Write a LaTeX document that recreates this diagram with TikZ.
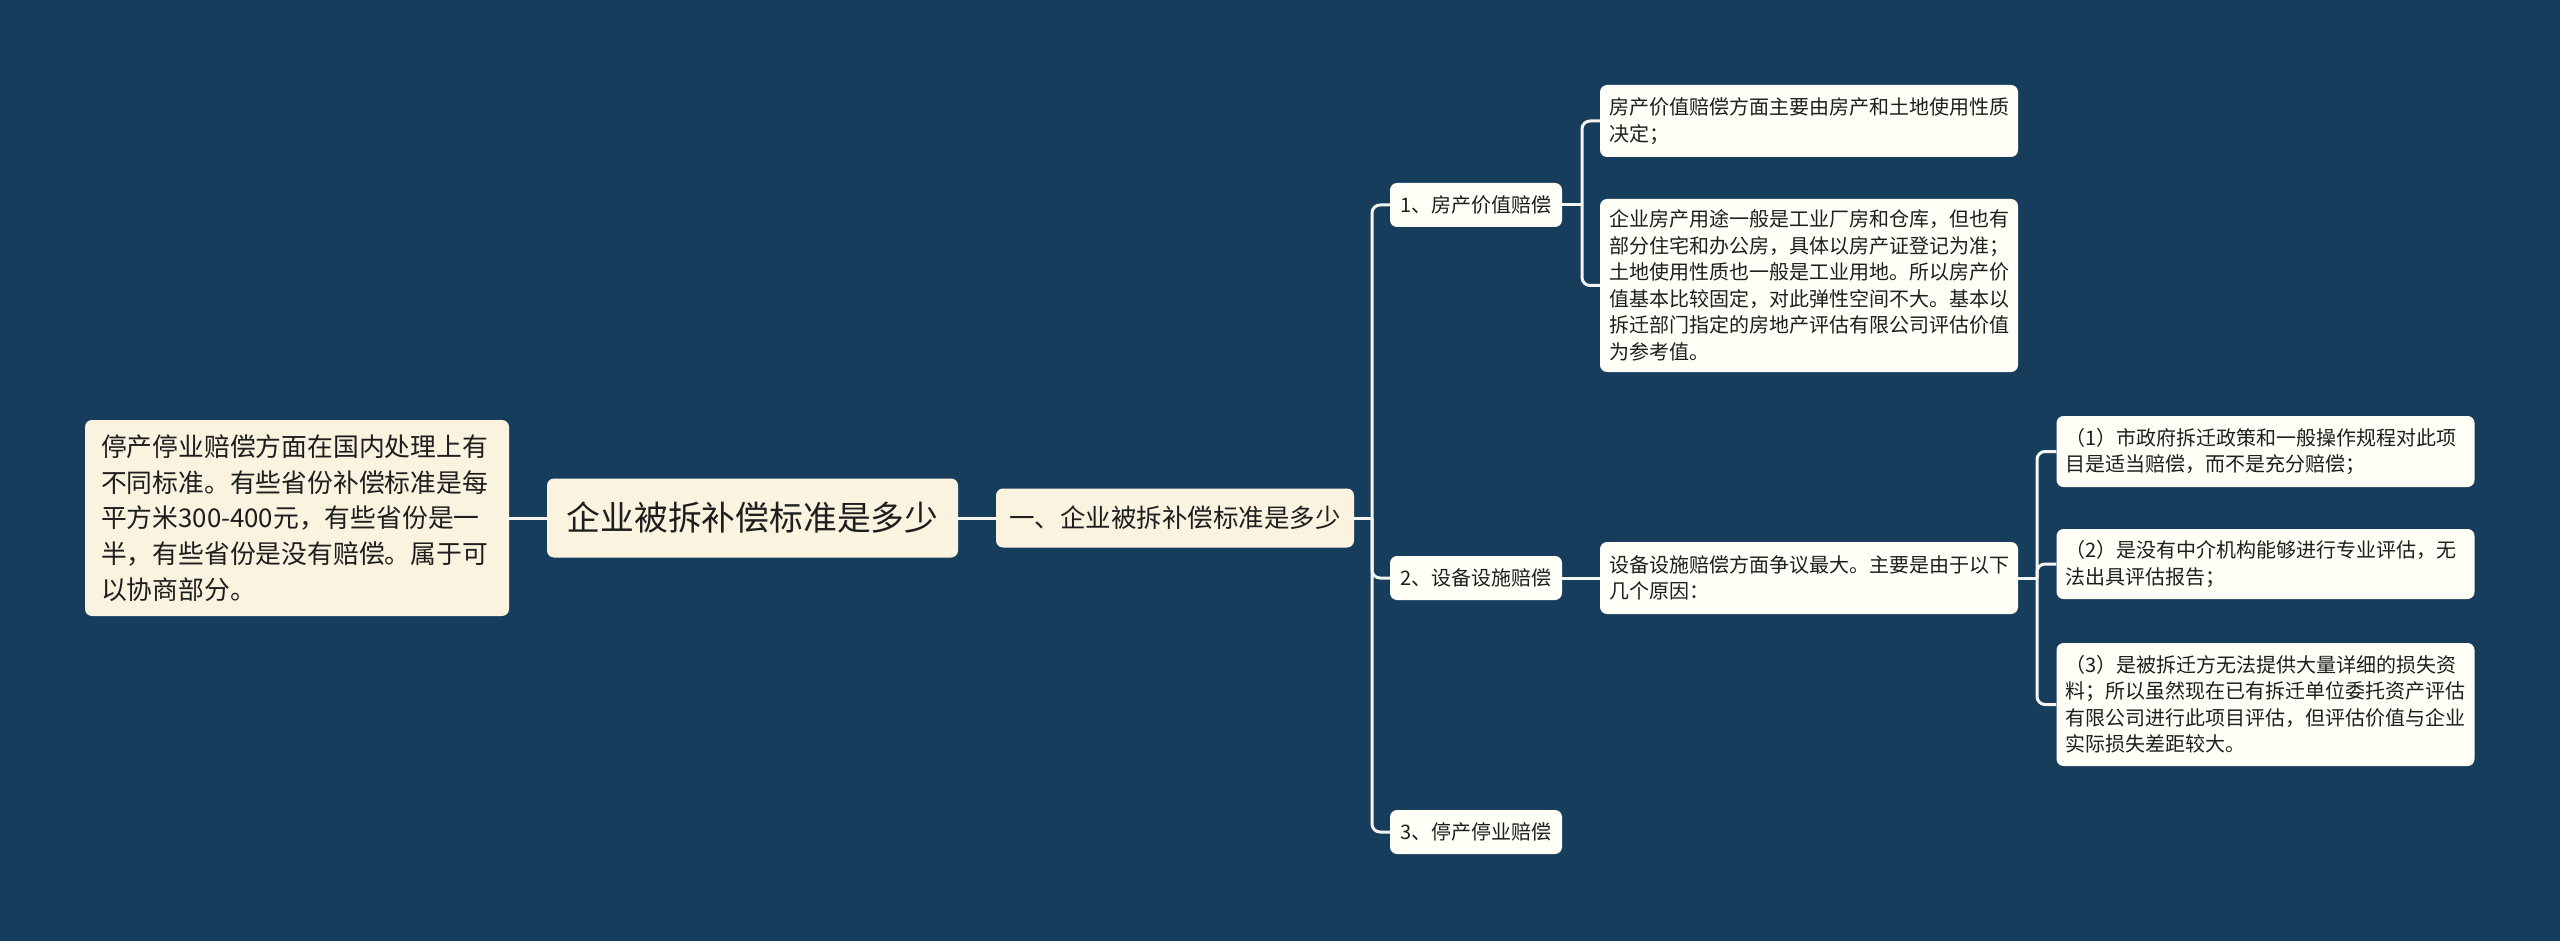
\documentclass[tikz,border=0pt]{standalone}
\usepackage{fontspec}
\setmainfont{Noto Sans CJK SC}
\definecolor{bgc}{HTML}{173D5C}
\definecolor{creamc}{HTML}{FAF3DF}
\definecolor{leafc}{HTML}{FFFEF7}
\definecolor{linec}{HTML}{F4F4F0}
\definecolor{txtc}{HTML}{1E1E1E}
\begin{document}
\begin{tikzpicture}[x=1pt,y=-1pt,
  box/.style={draw=none, rounded corners=7pt, inner sep=0pt, text=txtc},
  cream/.style={box, fill=creamc},
  leaf/.style={box, fill=leafc},
  midbox/.style={leaf, minimum width=172pt, minimum height=44pt, font=\fontsize{20}{26}\selectfont},
  textbox/.style={leaf, minimum width=418pt, text width=400pt, align=left, font=\fontsize{20}{26.5}\selectfont},
  conn/.style={draw=linec, line width=3pt},
  elbow/.style={conn, rounded corners=8pt}]
\fill[bgc] (0,0) rectangle (2560,941);
\useasboundingbox (0,0) rectangle (2560,941);

% nodes
\node[cream, minimum width=424pt, minimum height=196pt, text width=392pt, align=left,
      font=\fontsize{25.8}{35.6}\selectfont] (L) at (297,518)
  {停产停业赔偿方面在国内处理上有\\不同标准。有些省份补偿标准是每\\平方米300-400元，有些省份是一\\半，有些省份是没有赔偿。属于可\\以协商部分。};
\node[cream, minimum width=411pt, minimum height=79pt, font=\fontsize{33.8}{40}\selectfont] (R) at (752.5,518) {企业被拆补偿标准是多少};
\node[cream, minimum width=358pt, minimum height=59pt, font=\fontsize{25.5}{32}\selectfont] (A) at (1175,518) {一、企业被拆补偿标准是多少};

\node[midbox] (B1) at (1476,205) {1、房产价值赔偿};
\node[midbox] (B2) at (1476,578) {2、设备设施赔偿};
\node[midbox] (B3) at (1476,832) {3、停产停业赔偿};

\node[textbox, minimum height=72pt] (C1) at (1809,121)
  {房产价值赔偿方面主要由房产和土地使用性质\\决定；};
\node[textbox, minimum height=173pt] (C2) at (1809,285.5)
  {企业房产用途一般是工业厂房和仓库，但也有\\部分住宅和办公房，具体以房产证登记为准；\\土地使用性质也一般是工业用地。所以房产价\\值基本比较固定，对此弹性空间不大。基本以\\拆迁部门指定的房地产评估有限公司评估价值\\为参考值。};
\node[textbox, minimum height=72pt] (D) at (1809,578)
  {设备设施赔偿方面争议最大。主要是由于以下\\几个原因：};

\node[textbox, minimum height=71pt] (E1) at (2265.5,451.5)
  {（1）市政府拆迁政策和一般操作规程对此项\\目是适当赔偿，而不是充分赔偿；};
\node[textbox, minimum height=70pt] (E2) at (2265.5,564)
  {（2）是没有中介机构能够进行专业评估，无\\法出具评估报告；};
\node[textbox, minimum height=123pt] (E3) at (2265.5,704.5)
  {（3）是被拆迁方无法提供大量详细的损失资\\料；所以虽然现在已有拆迁单位委托资产评估\\有限公司进行此项目评估，但评估价值与企业\\实际损失差距较大。};

% bus points
\coordinate (t0) at (1372,518);
\coordinate (t1) at (1582,205);
\coordinate (t2) at (2037,578);

% connectors
\draw[conn] (L.east) -- (R.west);
\draw[conn] (R.east) -- (A.west);
\draw[conn] (A.east) -- (t0);
\draw[elbow] (t0) |- (B1.west);
\draw[elbow] (t0) |- (B2.west);
\draw[elbow] (t0) |- (B3.west);
\draw[conn] (B1.east) -- (t1);
\draw[elbow] (t1) |- (C1.west);
\draw[elbow] (t1) |- (C2.west);
\draw[conn] (B2.east) -- (D.west);
\draw[conn] (D.east) -- (t2);
\draw[elbow] (t2) |- (E1.west);
\draw[elbow] (t2) |- (E2.west);
\draw[elbow] (t2) |- (E3.west);
\end{tikzpicture}
\end{document}
